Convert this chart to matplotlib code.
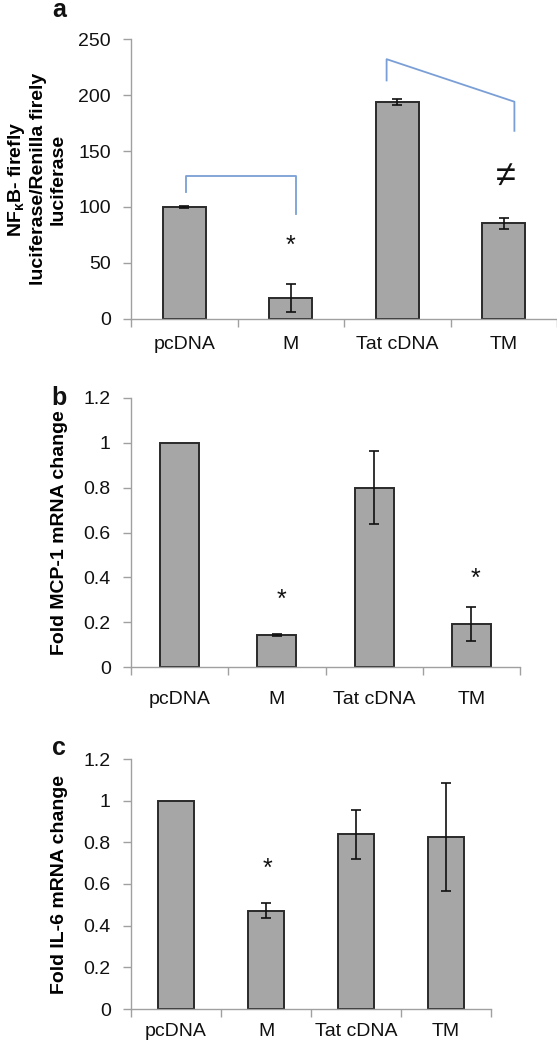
import matplotlib
matplotlib.use("Agg")
import matplotlib.pyplot as plt
import numpy as np

plt.rcParams['font.family'] = ['Liberation Sans', 'DejaVu Sans']
plt.rcParams['mathtext.fontset'] = 'custom'
plt.rcParams['mathtext.rm'] = 'Liberation Sans:bold'
plt.rcParams['mathtext.it'] = 'Liberation Sans:bold'
plt.rcParams['mathtext.bf'] = 'Liberation Sans:bold'

# ---------------- data ----------------
categories = ["pcDNA", "M", "Tat cDNA", "TM"]

a_values = [100, 19, 193.5, 85.5]
a_err = [0.6, 12.6, 2.7, 4.7]
a_ticks = [0, 50, 100, 150, 200, 250]

b_values = [1.0, 0.141, 0.80, 0.192]
b_err = [0.0, 0.004, 0.162, 0.075]
b_ticks = [0, 0.2, 0.4, 0.6, 0.8, 1.0, 1.2]
b_ticklabels = ["0", "0.2", "0.4", "0.6", "0.8", "1", "1.2"]

c_values = [1.0, 0.472, 0.838, 0.824]
c_err = [0.0, 0.036, 0.119, 0.259]
c_ticks = [0, 0.2, 0.4, 0.6, 0.8, 1.0, 1.2]
c_ticklabels = ["0", "0.2", "0.4", "0.6", "0.8", "1", "1.2"]

# significance brackets (panel a), in data coords
bracket1_x = [0.02, 0.02, 1.05, 1.05]
bracket1_y = [113, 128, 128, 94]
bracket2_x = [1.90, 1.90, 3.10, 3.10]
bracket2_y = [213, 232, 194, 168]

# annotation marks: (x, y, text)
a_marks = [(1.0, 65, "*"), (3.02, 127, "≠")]
b_marks = [(1.05, 0.298, "*"), (3.04, 0.392, "*")]
c_marks = [(1.02, 0.672, "*")]

ylabel_a = "NF$_{\\mathrm{\\kappa}}$B- firefly\nluciferase/Renilla firely\nluciferase"
ylabel_b = "Fold MCP-1 mRNA change"
ylabel_c = "Fold IL-6 mRNA change"

# ---------------- figure ----------------
W, H = 557, 1050
fig = plt.figure(figsize=(W / 100, H / 100), dpi=100)

def px_axes(left, right, top, bottom):
    return fig.add_axes([left / W, 1 - bottom / H, (right - left) / W, (bottom - top) / H])

BAR_FC = "#a6a6a6"
BAR_EC = "#2a2a2a"
SPINE_C = "#a0a0a0"
FS = 14

def style_axes(ax, ticks, ticklabels, ylabel, label_x, xpad, ylabel_fs=14, linespacing=1.2):
    x = np.arange(len(categories))
    ax.set_xlim(-0.5, len(categories) - 0.5)
    ax.set_ylim(ticks[0], ticks[-1])
    ax.set_yticks(ticks)
    ax.set_yticklabels(ticklabels, fontsize=FS)
    ax.set_xticks(x)
    ax.set_xticklabels(categories, fontsize=FS)
    ax.set_xticks(np.arange(len(categories) + 1) - 0.5, minor=True)
    ax.tick_params(axis='x', which='major', length=0, pad=xpad, colors='#111111')
    ax.tick_params(axis='x', which='minor', length=6, width=1, color=SPINE_C, direction='out')
    ax.tick_params(axis='y', which='major', length=6, width=1, color=SPINE_C, pad=8.5,
                   labelcolor='#111111')
    for s in ['top', 'right']:
        ax.spines[s].set_visible(False)
    for s in ['left', 'bottom']:
        ax.spines[s].set_color(SPINE_C)
        ax.spines[s].set_linewidth(1)
    ax.set_ylabel(ylabel, fontsize=ylabel_fs, fontweight='bold', linespacing=linespacing)
    ax.yaxis.set_label_coords(label_x, 0.5)

def draw_bars(ax, values, errs):
    x = np.arange(len(categories))
    ax.bar(x, values, width=0.4, color=BAR_FC, edgecolor=BAR_EC, linewidth=1.4, zorder=2)
    xs = [xi for xi, e in zip(x, errs) if e > 0]
    vs = [v for v, e in zip(values, errs) if e > 0]
    es = [e for e in errs if e > 0]
    ax.errorbar(xs, vs, yerr=es, fmt='none', ecolor='#111111', elinewidth=1.2,
                capsize=3.3, capthick=1.2, zorder=3)

def draw_marks(ax, marks):
    for mx, my, t in marks:
        if t == "*":
            ax.text(mx, my, t, ha='center', va='center', fontsize=18, color='#111111')
        else:
            ax.text(mx, my, t, ha='center', va='center', fontsize=26, color='#111111')

# panel a
axa = px_axes(131, 557, 39, 319)
draw_bars(axa, a_values, a_err)
style_axes(axa, a_ticks, [str(t) for t in a_ticks], ylabel_a, -0.150, 12,
           ylabel_fs=14, linespacing=1.25)
axa.plot(bracket1_x, bracket1_y, color="#7a9fd6", lw=1.3, zorder=1, clip_on=False)
axa.plot(bracket2_x, bracket2_y, color="#7a9fd6", lw=1.3, zorder=1, clip_on=False)
draw_marks(axa, a_marks)

# panel b
axb = px_axes(131, 520, 398, 667)
draw_bars(axb, b_values, b_err)
style_axes(axb, b_ticks, b_ticklabels, ylabel_b, -0.163, 17)
draw_marks(axb, b_marks)

# panel c
axc = px_axes(131, 491, 759, 1009)
draw_bars(axc, c_values, c_err)
style_axes(axc, c_ticks, c_ticklabels, ylabel_c, -0.176, 10)
draw_marks(axc, c_marks)

# panel letters
for letter, lx, ly in [("a", 52, 17), ("b", 51, 405), ("c", 52, 755)]:
    fig.text(lx / W, 1 - ly / H, letter, fontsize=18, fontweight='bold', ha='left',
             va='baseline', color='#111111')

fig.savefig("out.png", dpi=100)
